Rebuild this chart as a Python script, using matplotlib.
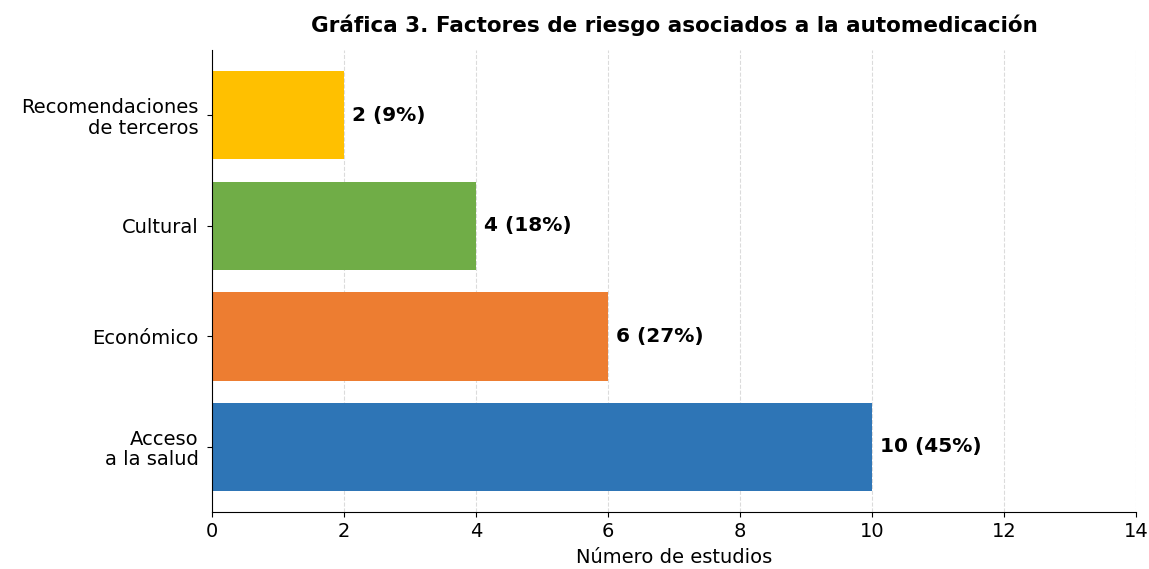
import matplotlib.pyplot as plt
import numpy as np

# --- data ---
categories = ['Acceso\na la salud', 'Económico', 'Cultural', 'Recomendaciones\nde terceros']
counts = [10, 6, 4, 2]
percents = [45, 27, 18, 9]
colors = ['#2E75B6', '#ED7D31', '#70AD47', '#FFC000']

fig = plt.figure(figsize=(11.49, 5.69), dpi=100)
ax = fig.add_axes([0.1845, 0.100, 0.8042, 0.812])

y = np.arange(len(categories))
ax.barh(y, counts, height=0.8, color=colors)

for yi, c, p in zip(y, counts, percents):
    ax.text(c + 0.12, yi, f'{c} ({p}%)', va='center', ha='left',
            fontsize=14.5, fontweight='bold')

ax.set_yticks(y)
ax.set_yticklabels(categories, fontsize=14, linespacing=1.1)
ax.tick_params(axis='y', pad=6)
ax.set_xlim(0, 14)
ax.set_xticks(np.arange(0, 15, 2))
ax.tick_params(axis='x', labelsize=14)
ax.set_xlabel('Número de estudios', fontsize=14, labelpad=5)
ax.set_title('Gráfica 3. Factores de riesgo asociados a la automedicación',
             fontsize=15.5, fontweight='bold', pad=13)

ax.grid(axis='x', linestyle='--', alpha=0.7, color='#cccccc')
ax.set_axisbelow(True)
ax.spines['top'].set_visible(False)
ax.spines['right'].set_visible(False)

plt.savefig('out.png', dpi=100)
